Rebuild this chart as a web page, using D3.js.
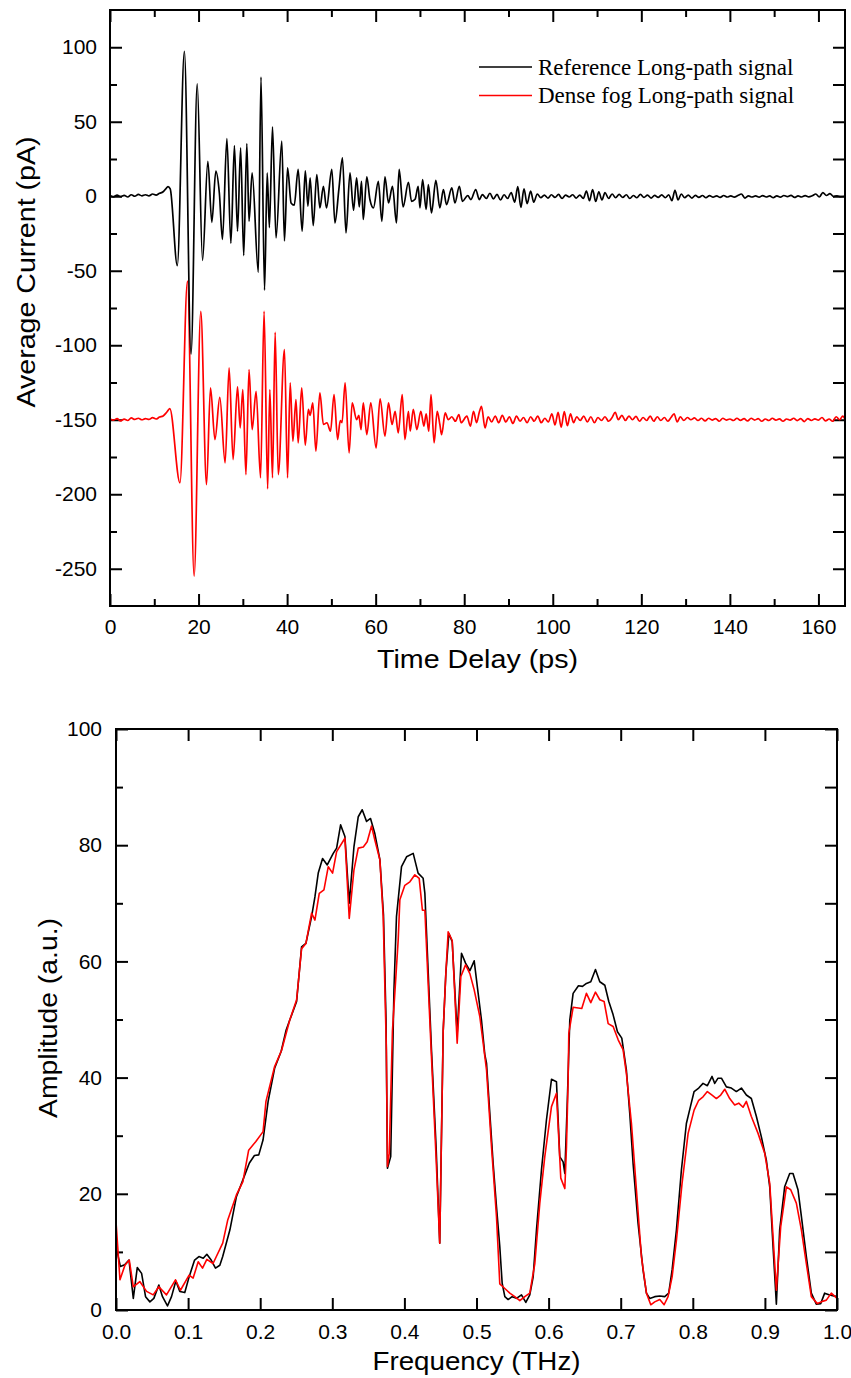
<!DOCTYPE html>
<html>
<head>
<meta charset="utf-8">
<script src="https://d3js.org/d3.v7.min.js"></script>
<style>
  body { margin: 0; background: #fff; }
  svg text { font-family: "Liberation Sans", Arial, sans-serif; fill: #000; }
</style>
</head>
<body>
<svg id="chart" width="851" height="1378"></svg>
<script>
"use strict";

// time domain, [delay (ps), current (pA)] - peaks and troughs
var refSignal = [
  [0, 0.5], [0.8, -0.5], [1.6, 0.8], [2.4, -0.3], [3.2, 0.6], [4.0, -0.5], [4.8, 1.0], [5.6, 0], [6.4, 1.2],
  [7.2, 0.3], [8.0, 1.0], [8.8, 0.2], [9.6, 1.5], [10.4, 0.8], [11.2, 2.0], [12.0, 3.0], [12.6, 5.0], [13.1, 6.5],
  [13.6, 5.0], [15.2, -46.5], [16.8, 97.3], [18.3, -106], [19.7, 75.4], [20.9, -43], [22.1, 23.5], [23.0, -17.5],
  [23.9, 16.8], [24.7, 2], [25.4, -29], [26.4, 38.7], [27.3, -31.7], [28.1, 34], [28.8, -23.5], [29.5, 32.5],
  [30.2, -39.8], [30.9, 35.4], [31.4, -16.8], [32.1, 15.7], [33.5, -51], [34.1, 80], [34.9, -63], [35.5, 15.7],
  [36.0, -21], [36.7, 46.6], [37.5, -28], [38.8, 37], [39.4, -30], [40.1, 19], [40.9, -4.5], [41.6, -6],
  [42.5, 18], [43.4, -23.5], [44.1, 17], [44.7, -6.7], [45.2, 12.3], [45.9, -19.7], [46.7, 14.6], [47.4, -7.8],
  [48.2, 6.7], [48.9, -7.8], [50.1, 18], [50.8, -17.9], [51.7, 5], [52.5, 25.8], [53.3, -24.6], [54.2, 15.7],
  [55.0, -9.4], [55.7, 12.3], [56.3, -7.1], [56.8, 10], [57.2, -15.6], [58.0, 13], [58.7, -2.2], [59.5, -7.8],
  [60.6, 10], [61.4, -16.8], [62.1, 13], [62.9, -4.5], [63.8, 6.7], [64.7, -17.9], [65.3, 18], [66.2, -7.1],
  [67.4, 9.4], [68.1, -3.4], [68.9, -2], [69.6, 6.7], [70.0, -7.8], [70.6, 11.2], [71.4, -8.9], [71.9, 7.9],
  [72.6, -11.2], [73.6, 10.7], [74.5, -7.8], [75.3, 4.5], [76.0, -5.6], [77.2, 5.6], [77.9, -4.5], [78.9, 6.7],
  [79.6, -3.4], [80.8, 0.5], [81.5, -2.2], [82.6, 4.5], [83.4, -2.2], [84.1, 1.1], [85.0, -1.5], [85.8, 2.0],
  [86.6, -1.8], [87.4, 1.2], [88.2, -2.5], [89.0, 1.0], [89.8, -1.5], [90.6, 2.5], [91.4, -4], [92.1, 6.5],
  [92.8, -7.5], [93.5, 5], [94.2, -5], [95.0, 3.5], [95.7, -4], [96.5, 1.5], [97.3, -1], [98.1, 0.8], [98.9, -1.2],
  [99.7, 1], [100.5, -0.8], [101.3, 1.2], [102.1, -1.5], [102.9, 0.8], [103.7, -0.5], [104.5, 1.0], [105.3, -1.2],
  [106.1, 0.8], [106.9, -1.5], [107.6, 3.5], [108.3, -3], [109.0, 4.5], [109.7, -3.5], [110.4, 3], [111.1, -2.5],
  [111.8, 2.5], [112.6, -1.5], [113.4, 1.5], [114.2, -1.0], [115.0, 1.2], [115.8, -0.8], [116.6, 1.0], [117.4, -1.5],
  [118.2, 0.5], [119.0, -1.0], [119.8, 1.2], [120.6, -0.8], [121.4, 0.8], [122.2, -1.2], [123.0, 0.6], [123.8, -0.8],
  [124.6, 0.9], [125.4, -1.0], [126.2, 1.0], [126.9, -3], [127.6, 4], [128.3, -2.5], [129.0, 1.5], [129.8, -1.0],
  [130.6, 0.8], [131.4, -1.2], [132.2, 0.6], [133.0, -0.8], [133.8, 0.5], [134.6, -1.0], [135.4, 0.4], [136.2, -0.6],
  [137.0, 0.3], [137.8, -0.8], [138.6, 0.5], [139.4, -0.5], [140.2, 0.3], [141.0, -0.6], [141.8, 0.5], [142.6, 1.5],
  [143.4, -1.2], [144.2, 0.3], [145.0, -0.5], [145.8, 0.2], [146.6, -0.6], [147.4, 0.4], [148.2, -0.5], [149.0, 0.2],
  [149.8, -1.0], [150.6, 0.3], [151.4, -0.6], [152.2, 0.5], [153.0, -0.3], [153.8, 0.6], [154.6, -0.8], [155.4, 0.2],
  [156.2, -0.5], [157.0, 0.4], [157.8, -0.4], [158.6, 0.3], [159.4, 1.5], [160.2, -0.5], [161.0, 2.5], [161.8, 0.5],
  [162.6, 1.8], [163.4, -0.2], [164.2, 0.3], [165.0, -0.3], [166, 0]
];

var fogSignal = [
  [0, -149.5], [0.8, -150.2], [1.6, -149.3], [2.4, -150.8], [3.2, -149.6], [4.0, -150.5], [4.8, -148.8],
  [5.6, -149.8], [6.4, -149.0], [7.2, -150.0], [8.0, -149.2], [8.8, -149.8], [9.6, -148.6], [10.4, -149.5],
  [11.2, -148.2], [12.0, -147.5], [12.8, -145], [13.5, -142.5], [15.8, -192.3], [17.5, -57], [19.0, -255],
  [20.5, -77.2], [21.8, -193.5], [22.7, -128.6], [23.7, -163.3], [24.8, -135], [26.0, -178.9], [26.9, -115.2],
  [27.8, -176.7], [28.8, -127.9], [29.4, -155.4], [30.0, -129.7], [30.7, -186.8], [31.4, -116.3], [32.1, -156.6],
  [33.0, -130.9], [34.0, -189], [34.8, -77.2], [35.6, -196.4], [36.1, -129.7], [36.7, -189], [37.3, -91.3],
  [38.0, -186.8], [39.4, -102.9], [40.1, -189], [40.7, -125.2], [41.3, -164.4], [42.0, -136.4], [42.5, -165.5],
  [43.3, -128.6], [44.1, -167], [44.8, -143], [45.2, -147], [45.8, -138.7], [46.5, -171.1], [47.4, -132],
  [48.2, -153.2], [49.0, -152], [49.8, -157.7], [50.6, -133.1], [51.4, -163.3], [52.0, -150.6], [52.4, -152],
  [53.1, -125.2], [54.0, -172.2], [54.7, -138.7], [55.7, -149.9], [56.2, -147], [56.7, -156.6], [57.2, -138.7],
  [58.0, -160], [58.9, -138.7], [60.1, -168.9], [61.0, -136], [62.1, -161], [62.9, -138.7], [63.7, -153.2],
  [64.4, -144.3], [65.1, -158.8], [66.0, -133.1], [66.6, -163.3], [67.4, -144.3], [67.8, -157.7], [68.5, -143],
  [69.3, -156.6], [70.2, -144.3], [70.9, -154.3], [71.4, -146], [72.0, -157.7], [72.5, -133.1], [73.2, -165.5],
  [73.9, -144.3], [74.5, -153.2], [74.9, -160], [75.7, -145.4], [76.4, -150], [77.2, -148], [78.0, -151],
  [78.8, -146.5], [79.3, -152], [80.6, -147.6], [81.4, -154.3], [82.1, -144.3], [82.8, -152], [83.4, -145],
  [83.9, -141], [84.7, -155.5], [85.4, -148], [86.2, -151.5], [87.0, -147.5], [87.8, -152], [88.6, -147],
  [89.4, -151.5], [90.2, -148], [91.0, -152.5], [91.8, -147.5], [92.6, -151], [93.4, -148.5], [94.2, -152],
  [95.0, -148], [95.8, -151], [96.6, -147.5], [97.4, -152], [98.2, -149], [99.0, -151.5], [99.8, -146],
  [100.5, -153.5], [101.2, -145], [101.9, -155], [102.6, -144.5], [103.3, -154], [104.0, -146], [104.7, -152],
  [105.4, -148], [106.2, -150.5], [107.0, -147.5], [107.8, -151.5], [108.6, -148], [109.4, -152], [110.2, -148.5],
  [111.0, -150.5], [111.8, -148], [112.6, -151], [113.4, -148.5], [114.1, -145], [114.8, -150], [115.6, -147],
  [116.4, -150.5], [117.2, -147.5], [118.0, -150], [118.8, -147.8], [119.6, -151], [120.4, -148.5], [121.2, -150.5],
  [122.0, -147.5], [122.8, -151], [123.6, -148], [124.4, -150.5], [125.2, -148.5], [126.0, -151], [126.7, -148.5],
  [127.4, -146], [128.1, -151.5], [128.8, -148], [129.6, -150.5], [130.4, -148.5], [131.2, -150], [132.0, -148.8],
  [132.8, -150.5], [133.6, -149], [134.4, -150.8], [135.2, -149], [136.0, -150.2], [136.8, -149.2], [137.6, -151],
  [138.4, -149], [139.2, -150.2], [140.0, -149.5], [140.8, -150.5], [141.6, -149], [142.4, -150.4], [143.2, -149.3],
  [144.0, -150.8], [144.8, -149], [145.6, -150.2], [146.4, -149.3], [147.2, -151], [148.0, -149.5], [148.8, -150.5],
  [149.6, -149], [150.4, -150.3], [151.2, -149.4], [152.0, -151], [152.8, -149.5], [153.6, -150.3], [154.4, -149],
  [155.2, -150.6], [156.0, -149.3], [156.8, -151.2], [157.6, -149.2], [158.4, -150.5], [159.2, -149.4],
  [160.0, -150.2], [160.8, -148.5], [161.6, -150.8], [162.4, -149.5], [163.2, -151], [164.0, -148], [164.8, -150],
  [165.5, -147.5], [166, -149.5]
];

// spectra, [frequency (THz), amplitude (a.u.)]
var refSpectrum = [
  [0, 11], [0.006, 7.5], [0.012, 7.8], [0.018, 8.6], [0.024, 2.0], [0.0295, 7.3], [0.0355, 6.3], [0.041, 2.3],
  [0.047, 1.4], [0.0525, 2.0], [0.0594, 4.3], [0.0645, 2.3], [0.0714, 0.7], [0.077, 2.3], [0.083, 5.0],
  [0.0885, 3.2], [0.0954, 3.0], [0.1014, 5.7], [0.109, 8.6], [0.115, 9.2], [0.121, 8.9], [0.126, 9.6],
  [0.132, 8.6], [0.138, 7.2], [0.144, 7.7], [0.148, 9.2], [0.158, 13.8], [0.167, 19.5], [0.176, 22.4],
  [0.185, 25.3], [0.192, 26.6], [0.198, 26.7], [0.204, 29.3], [0.211, 35.9], [0.22, 41.6], [0.229, 44.5],
  [0.236, 48.2], [0.241, 49.9], [0.2505, 53.1], [0.2574, 62.5], [0.2634, 63.1], [0.2713, 67.7], [0.2759, 71.1],
  [0.2805, 75.2], [0.2865, 77.7], [0.293, 76.6], [0.3013, 78.6], [0.306, 79.5], [0.3115, 83.5], [0.3175, 81.5],
  [0.3235, 70.0], [0.33, 79.7], [0.336, 84.9], [0.3415, 86.1], [0.3475, 84.1], [0.353, 84.6], [0.359, 82.0],
  [0.366, 77.5], [0.371, 68], [0.3745, 50], [0.3765, 24.4], [0.381, 26.4], [0.3855, 55], [0.389, 67.7],
  [0.396, 76.3], [0.403, 78.0], [0.4122, 78.6], [0.419, 75.2], [0.426, 74.3], [0.4284, 71.7], [0.4376, 44.7],
  [0.444, 28], [0.449, 11.5], [0.4538, 48], [0.4575, 58], [0.4617, 64.8], [0.4663, 63.4], [0.4732, 47.6],
  [0.4792, 61.4], [0.4848, 59.7], [0.4908, 58.4], [0.4968, 60.1], [0.5023, 54.5], [0.5069, 49.9], [0.5115, 44.0],
  [0.5139, 42.5], [0.5185, 33.8], [0.5231, 25.2], [0.5277, 17.8], [0.5323, 10.9], [0.5356, 4.6], [0.5393, 2.3],
  [0.5439, 1.8], [0.5494, 2.3], [0.5555, 2.0], [0.5624, 2.6], [0.5684, 1.3], [0.5739, 2.6], [0.5786, 5.7],
  [0.5832, 13.8], [0.5901, 24.1], [0.597, 32.7], [0.604, 39.7], [0.6109, 39.3], [0.6155, 26.4], [0.6201, 25.5],
  [0.6225, 23.5], [0.6257, 35], [0.6294, 49.9], [0.634, 54.5], [0.6414, 55.8], [0.647, 55.7], [0.6525, 56.2],
  [0.6585, 56.5], [0.665, 58.6], [0.671, 56.5], [0.678, 55.9], [0.6835, 53.1], [0.6895, 50.8], [0.6955, 47.9],
  [0.7015, 46.8], [0.7033, 45.3], [0.7079, 41.3], [0.7126, 33.8], [0.7172, 25.2], [0.7241, 14.9], [0.731, 6.9],
  [0.7357, 2.9], [0.7403, 2.0], [0.7472, 2.3], [0.7542, 2.4], [0.7611, 2.3], [0.7666, 2.9], [0.7713, 6.9],
  [0.7773, 13.8], [0.7842, 24.1], [0.7911, 32.1], [0.7967, 35], [0.8018, 37.6], [0.8082, 38.2], [0.8142, 39.0],
  [0.8202, 38.6], [0.8267, 40.2], [0.8304, 39.0], [0.835, 39.9], [0.8397, 39.9], [0.8466, 38.4], [0.8535, 38.2],
  [0.8604, 37.6], [0.8674, 38.2], [0.8743, 37.0], [0.8812, 36.4], [0.8882, 33.3], [0.8951, 29.8], [0.902, 25.8],
  [0.9067, 21.2], [0.9113, 10.9], [0.9159, 1.0], [0.9205, 13.8], [0.9274, 21.2], [0.9344, 23.5], [0.939, 23.5],
  [0.9459, 20.7], [0.9506, 16.1], [0.9575, 9.2], [0.9644, 2.9], [0.9713, 1.0], [0.9774, 1.1], [0.9829, 2.9],
  [0.9898, 2.6], [1.0, 2.3]
];

var fogSpectrum = [
  [0, 15.2], [0.0055, 5.2], [0.0124, 7.7], [0.0184, 8.6], [0.024, 4.0], [0.033, 4.9], [0.0424, 3.2], [0.0516, 2.6],
  [0.0594, 4.0], [0.07, 2.6], [0.0825, 5.2], [0.0894, 3.4], [0.1014, 6.0], [0.107, 5.5], [0.114, 8.3], [0.12, 7.2],
  [0.126, 8.7], [0.1346, 8.0], [0.148, 11.5], [0.155, 15.5], [0.167, 19.8], [0.176, 22.1], [0.184, 27.5],
  [0.194, 29.0], [0.204, 30.7], [0.208, 35.9], [0.22, 41.9], [0.2297, 44.7], [0.241, 49.9], [0.2505, 53.4],
  [0.2574, 62.2], [0.2634, 63.1], [0.2713, 68.3], [0.2759, 67.1], [0.2819, 71.7], [0.2884, 72.3], [0.2944, 76.3],
  [0.3004, 75.2], [0.306, 78.9], [0.3175, 81.2], [0.3235, 67.4], [0.33, 75.7], [0.336, 79.5], [0.343, 79.7],
  [0.3484, 80.6], [0.3544, 83.3], [0.359, 80.9], [0.366, 77.5], [0.3706, 67.7], [0.375, 44.7], [0.3765, 24.7],
  [0.379, 27], [0.3834, 48], [0.3914, 63.7], [0.3937, 70.6], [0.4006, 73.1], [0.4076, 73.7], [0.4145, 74.9],
  [0.4205, 74.3], [0.425, 68.8], [0.4284, 68.8], [0.437, 45], [0.444, 26], [0.449, 11.5], [0.4538, 48],
  [0.4575, 58], [0.4607, 65.1], [0.4663, 63.6], [0.4732, 45.9], [0.4783, 57.4], [0.4848, 59.4], [0.4908, 57.9],
  [0.4968, 55.1], [0.5046, 50.5], [0.5092, 46], [0.5139, 41.3], [0.5208, 28.1], [0.5277, 16.1], [0.5323, 4.5],
  [0.5393, 3.7], [0.5462, 2.9], [0.5531, 2.3], [0.5601, 1.6], [0.567, 2.3], [0.5739, 2.9], [0.5809, 8.0],
  [0.5878, 18.4], [0.5947, 26.4], [0.604, 35.0], [0.6109, 37.3], [0.6169, 22.7], [0.6225, 20.9], [0.6248, 28.1],
  [0.6271, 39.6], [0.628, 47.6], [0.634, 52.1], [0.646, 51.9], [0.6525, 54.5], [0.6585, 52.9], [0.665, 54.7],
  [0.671, 53.4], [0.677, 53.1], [0.6826, 49.3], [0.6895, 48.8], [0.6965, 46.5], [0.7033, 44.8], [0.7079, 40.7],
  [0.7149, 32.1], [0.7218, 20.7], [0.7287, 9.2], [0.7357, 2.9], [0.7417, 0.9], [0.7472, 1.4], [0.7542, 1.8],
  [0.7602, 0.9], [0.7657, 2.3], [0.7713, 5.7], [0.7773, 12.0], [0.7851, 21.8], [0.7935, 30.4], [0.8018, 34.4],
  [0.8082, 36.1], [0.8142, 36.7], [0.8202, 37.6], [0.8267, 37.0], [0.8327, 36.4], [0.8387, 37.0], [0.8443, 38.0],
  [0.8512, 36.4], [0.8581, 35.3], [0.8637, 35.6], [0.8697, 34.9], [0.8743, 35.9], [0.8812, 33.3], [0.8905, 30.4],
  [0.8997, 27.0], [0.9067, 21.8], [0.9113, 12.6], [0.9159, 3.4], [0.9219, 14.3], [0.9298, 21.2], [0.9358, 20.7],
  [0.9436, 18.4], [0.9506, 13.8], [0.9575, 8.0], [0.9644, 2.3], [0.9727, 1.1], [0.9783, 1.4], [0.9852, 1.7],
  [0.9921, 2.9], [1.0, 2.0]
];

var timeTicks = [0, 20, 40, 60, 80, 100, 120, 140, 160];
var currentTicks = [-250, -200, -150, -100, -50, 0, 50, 100];
var freqTicks = [0, 0.1, 0.2, 0.3, 0.4, 0.5, 0.6, 0.7, 0.8, 0.9, 1.0];
var ampTicks = [0, 20, 40, 60, 80, 100];

var seriesNames = ["Reference Long-path signal", "Dense fog Long-path signal"];
var seriesColors = ["#000000", "#ff0000"];

var MAJOR = 12, MINOR = 7;
var svg = d3.select("#chart");

function midpoints(ticks) {
  return d3.pairs(ticks).map(function (p) { return (p[0] + p[1]) / 2; });
}

// plain hyphen for negatives, like the original
function intLabel(d) { return String(Math.round(d)); }
function oneDecimal(d) { return d.toFixed(1); }

function drawPanel(cfg) {
  var x = d3.scaleLinear().domain(cfg.xDomain).range([cfg.left, cfg.right]);
  var y = d3.scaleLinear().domain(cfg.yDomain).range([cfg.bottom, cfg.top]);
  var g = svg.append("g");

  var clipId = "clip-" + cfg.name;
  g.append("clipPath").attr("id", clipId).append("rect")
    .attr("x", cfg.left).attr("y", cfg.top)
    .attr("width", cfg.right - cfg.left).attr("height", cfg.bottom - cfg.top);

  // ticks point inward on all four sides
  function addAxis(axis, transform, size, values, labels) {
    var a = g.append("g").attr("transform", transform)
      .call(axis.tickValues(values).tickSize(-size).tickPadding(labels ? cfg.pad : 0)
        .tickFormat(labels ? cfg.fmt[labels] : ""));
    a.select(".domain").remove();
    a.selectAll(".tick line").attr("stroke", "#000").attr("stroke-width", 2);
    a.selectAll(".tick text").attr("font-size", 21).attr("fill", "#000");
    return a;
  }

  var xMinor = cfg.xMinor ? midpoints(cfg.xTicks) : [];
  var yMinor = midpoints(cfg.yTicks);

  addAxis(d3.axisBottom(x), "translate(0," + cfg.bottom + ")", MAJOR, cfg.xTicks, "x");
  addAxis(d3.axisBottom(x), "translate(0," + cfg.bottom + ")", MINOR, xMinor);
  addAxis(d3.axisTop(x), "translate(0," + cfg.top + ")", MAJOR, cfg.xTicks);
  addAxis(d3.axisTop(x), "translate(0," + cfg.top + ")", MINOR, xMinor);
  addAxis(d3.axisLeft(y), "translate(" + cfg.left + ",0)", MAJOR, cfg.yTicks, "y");
  addAxis(d3.axisLeft(y), "translate(" + cfg.left + ",0)", MINOR, yMinor);
  addAxis(d3.axisRight(y), "translate(" + cfg.right + ",0)", MAJOR, cfg.yTicks.concat(yMinor));

  var line = d3.line()
    .x(function (d) { return x(d[0]); })
    .y(function (d) { return y(d[1]); })
    .curve(cfg.curve);

  var plot = g.append("g").attr("clip-path", "url(#" + clipId + ")");
  cfg.order.forEach(function (i) {
    plot.append("path")
      .datum(cfg.series[i])
      .attr("fill", "none")
      .attr("stroke", seriesColors[i])
      .attr("stroke-width", cfg.lineWidth)
      .attr("stroke-linejoin", "round")
      .attr("d", line);
  });

  g.append("rect")
    .attr("x", cfg.left).attr("y", cfg.top)
    .attr("width", cfg.right - cfg.left).attr("height", cfg.bottom - cfg.top)
    .attr("fill", "none").attr("stroke", "#000").attr("stroke-width", 2);

  g.append("text")
    .attr("x", (cfg.left + cfg.right) / 2).attr("y", cfg.xTitleY)
    .attr("text-anchor", "middle").attr("font-size", 26)
    .attr("textLength", cfg.xTitleLen).attr("lengthAdjust", "spacingAndGlyphs")
    .text(cfg.xTitle);

  g.append("text")
    .attr("transform", "translate(" + cfg.yTitleX + "," + cfg.yTitleCy + ") rotate(-90)")
    .attr("text-anchor", "middle").attr("font-size", 26)
    .attr("textLength", cfg.yTitleLen).attr("lengthAdjust", "spacingAndGlyphs")
    .text(cfg.yTitle);

  return { x: x, y: y, g: g };
}

var timePanel = drawPanel({
  name: "time",
  left: 110, right: 845, top: 10, bottom: 606,
  xDomain: [0, 166], yDomain: [-275, 125],
  xTicks: timeTicks, yTicks: currentTicks, xMinor: true, pad: 13,
  fmt: { x: intLabel, y: intLabel },
  series: [refSignal, fogSignal], order: [1, 0],
  curve: d3.curveMonotoneX, lineWidth: 1.7,
  xTitle: "Time Delay (ps)", xTitleY: 668, xTitleLen: 201,
  yTitle: "Average Current (pA)", yTitleX: 35, yTitleCy: 272, yTitleLen: 271
});

drawPanel({
  name: "freq",
  left: 116, right: 837, top: 729, bottom: 1310,
  xDomain: [0, 1], yDomain: [0, 100],
  xTicks: freqTicks, yTicks: ampTicks, xMinor: false, pad: 14,
  fmt: { x: oneDecimal, y: intLabel },
  series: [refSpectrum, fogSpectrum], order: [0, 1],
  curve: d3.curveLinear, lineWidth: 1.6,
  xTitle: "Frequency (THz)", xTitleY: 1370, xTitleLen: 208,
  yTitle: "Amplitude (a.u.)", yTitleX: 57, yTitleCy: 1018, yTitleLen: 200
});

// legend of the time-domain panel
var legend = timePanel.g.append("g");
seriesNames.forEach(function (name, i) {
  var ly = 67 + i * 28.5;
  legend.append("line")
    .attr("x1", 479).attr("x2", 532).attr("y1", ly).attr("y2", ly)
    .attr("stroke", seriesColors[i]).attr("stroke-width", 1.6);
  legend.append("text")
    .attr("x", 538).attr("y", ly + 7.5)
    .attr("font-size", 23)
    .style("font-family", "'Liberation Serif', 'Times New Roman', serif")
    .text(name);
});
</script>
</body>
</html>
